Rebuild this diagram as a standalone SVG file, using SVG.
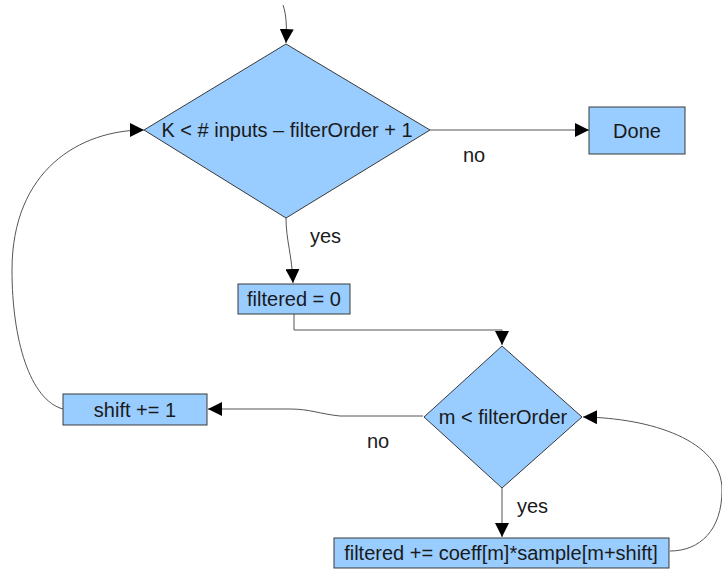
<svg xmlns="http://www.w3.org/2000/svg" width="722" height="569" viewBox="0 0 722 569">
<defs>
<style>
.n{fill:#99ccff;stroke:#3a3a3a;stroke-width:1}
.t{font-family:"Liberation Sans",Arial,sans-serif;font-size:20px;fill:#1a1a1a;text-anchor:middle}
.l{font-family:"Liberation Sans",Arial,sans-serif;font-size:20px;fill:#1a1a1a}
.c{fill:none;stroke:#555;stroke-width:1}
</style>
<marker id="a" viewBox="0 0 10 10" refX="10" refY="5" markerWidth="14" markerHeight="14" markerUnits="userSpaceOnUse" orient="auto">
<path d="M0,0 L10,5 L0,10 z" fill="#000"/>
</marker>
</defs>
<rect width="722" height="569" fill="#fff"/>
<g id="connectors">
<path class="c" d="M283,5 C286,14 287,24 286,43" marker-end="url(#a)"/>
<path class="c" d="M430,130 L589,130" marker-end="url(#a)"/>
<path class="c" d="M286,218 C286,240 292,255 293,283" marker-end="url(#a)"/>
<path class="c" d="M294,314 L294,330 L502,330 L502,345" marker-end="url(#a)"/>
<path class="c" d="M423,416 L340,416 C320,414 310,409 290,409 L208,409" marker-end="url(#a)"/>
<path class="c" d="M502,488 L502,537" marker-end="url(#a)"/>
<path class="c" d="M670,551 C700,551 722,530 722,490 C722,440 650,418 583,417" marker-end="url(#a)"/>
<path class="c" d="M63,409 C30,400 12,340 12,270 C12,170 80,130 144,130" marker-end="url(#a)"/>
</g>
<g id="decision1">
<polygon class="n" points="286,44 430,130 286,218 144,130"/>
<text class="t" x="287" y="137">K &lt; # inputs – filterOrder + 1</text>
</g>
<g id="done">
<rect class="n" x="589" y="107" width="96" height="47"/>
<text class="t" x="637" y="138">Done</text>
</g>
<g id="init">
<rect class="n" x="238" y="284" width="112" height="30"/>
<text class="t" x="294" y="306">filtered = 0</text>
</g>
<g id="decision2">
<polygon class="n" points="502,346 582,417 502,488 424,417"/>
<text class="t" x="503" y="424">m &lt; filterOrder</text>
</g>
<g id="shift">
<rect class="n" x="63" y="394" width="144" height="31"/>
<text class="t" x="135" y="417">shift += 1</text>
</g>
<g id="accum">
<rect class="n" x="334" y="538" width="335" height="30"/>
<text class="t" x="501" y="560">filtered += coeff[m]*sample[m+shift]</text>
</g>
<g id="labels">
<text class="l" x="463" y="162">no</text>
<text class="l" x="310" y="243">yes</text>
<text class="l" x="367" y="448">no</text>
<text class="l" x="517" y="513">yes</text>
</g>
</svg>
